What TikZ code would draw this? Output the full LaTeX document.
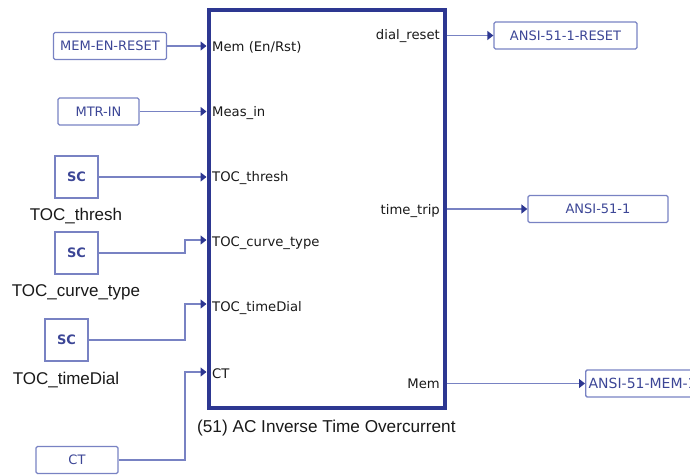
\documentclass[tikz,border=0pt]{standalone}
\usepackage{fontspec}
\setmainfont{Liberation Sans}
\newfontfamily\tah{DejaVu Sans}
\usetikzlibrary{arrows.meta}
\definecolor{navy}{RGB}{45,55,145}
\definecolor{lineblue}{RGB}{120,130,195}
\definecolor{boxtext}{RGB}{60,70,150}
\definecolor{txt}{RGB}{25,25,25}
\tikzset{
  blkbox/.style={draw=navy,line width=4pt,minimum width=236pt,minimum height=398pt,inner sep=0pt},
  tagbox/.style={draw=lineblue,line width=1.3pt,rounded corners=1.5pt,minimum height=27pt,inner sep=0pt,
    font=\tah\fontsize{13}{15}\selectfont,text=boxtext},
  scbox/.style={draw=lineblue,line width=1.3pt,minimum width=43pt,minimum height=42pt,inner sep=0pt,
    font=\tah\bfseries\fontsize{13}{15}\selectfont,text=boxtext},
  sclabel/.style={font=\fontsize{17}{19}\selectfont,text=txt,inner sep=0pt},
  portl/.style={anchor=west,font=\tah\fontsize{13.2}{15}\selectfont,text=txt,inner sep=0pt},
  portr/.style={anchor=east,font=\tah\fontsize{13.2}{15}\selectfont,text=txt,inner sep=0pt},
  conn/.style={draw=lineblue,line width=1.3pt,-{Triangle[length=6pt,width=9pt,color=navy]}},
}
\begin{document}
\begin{tikzpicture}[x=1pt,y=-1pt]
\useasboundingbox (0,0) rectangle (690,474);
\clip (0,0) rectangle (690,474);
% main block
\node[blkbox] (blk) at (326.5,209) {};
\node[sclabel,anchor=west,font=\fontsize{17.2}{19}\selectfont] (title) at (197,428) {(51) AC Inverse Time Overcurrent};
% port coordinates
\coordinate (bus) at (185,0);
\coordinate (iCur) at (blk.west |- 0,240);
\coordinate (iDial) at (blk.west |- 0,304);
\coordinate (iCT) at (blk.west |- 0,372);
% port labels
\node[portl] (lMem) at (212,47) {Mem (En/Rst)};
\node[portl] (lMeas) at (212,113) {Meas\_in};
\node[portl] (lThr) at (212,178) {TOC\_thresh};
\node[portl] (lCur) at (212,243) {TOC\_curve\_type};
\node[portl] (lDial) at (212,308) {TOC\_timeDial};
\node[portl] (lCT) at (212,374) {CT};
\node[portr] (lRst) at (440,36) {dial\_reset};
\node[portr] (lTrip) at (440,211) {time\_trip};
\node[portr] (lMemo) at (440,384) {Mem};
% left sources
\node[tagbox,minimum width=113pt] (mer) at (110,46) {MEM-EN-RESET};
\node[tagbox,minimum width=81pt] (mtr) at (98.5,111.5) {MTR-IN};
\node[scbox] (sc1) at (76.5,177) {SC};
\node[scbox] (sc2) at (76.5,253) {SC};
\node[scbox] (sc3) at (66.5,340) {SC};
\node[sclabel] (t1) at (76,216) {TOC\_thresh};
\node[sclabel] (t2) at (76,292) {TOC\_curve\_type};
\node[sclabel] (t3) at (66,380) {TOC\_timeDial};
\node[tagbox,minimum width=82pt] (ctb) at (77,460) {CT};
% right sinks
\node[tagbox,minimum width=143pt] (rst) at (565.5,35.5) {ANSI-51-1-RESET};
\node[tagbox,minimum width=140pt] (trip) at (598,209) {ANSI-51-1};
\node[tagbox,minimum width=140pt,anchor=west,text width=134pt,align=left,font=\tah\fontsize{14}{16}\selectfont] (mem1) at (585,383.5) {ANSI-51-MEM-1};
% connectors
\draw[conn] (mer.east) -- (mer.east -| blk.west);
\draw[conn] (mtr.east) -- (mtr.east -| blk.west);
\draw[conn] (sc1.east) -- (sc1.east -| blk.west);
\draw[conn] (sc2.east) -- (sc2.east -| bus) |- (iCur);
\draw[conn] (sc3.east) -- (sc3.east -| bus) |- (iDial);
\draw[conn] (ctb.east) -- (ctb.east -| bus) |- (iCT);
\draw[conn] (rst.west -| blk.east) -- (rst.west);
\draw[conn] (trip.west -| blk.east) -- (trip.west);
\draw[conn] (mem1.west -| blk.east) -- (mem1.west);
\end{tikzpicture}
\end{document}
